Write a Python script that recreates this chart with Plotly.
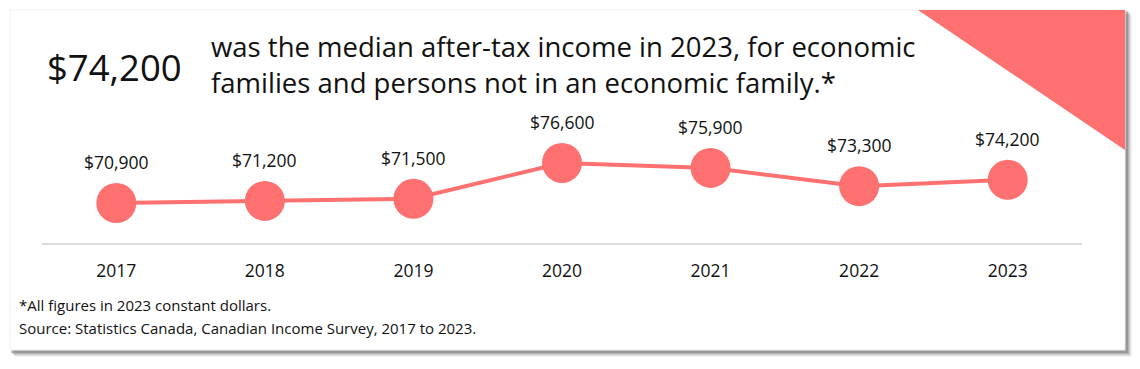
import plotly.graph_objects as go

years = ["2017", "2018", "2019", "2020", "2021", "2022", "2023"]
income = [70900, 71200, 71500, 76600, 75900, 73300, 74200]
labels = ["$70,900", "$71,200", "$71,500", "$76,600", "$75,900", "$73,300", "$74,200"]

# page has an 8px body margin; figure is sized so the page fits the 1140x369 window
OFF = 8
W, H = 1140 - 2 * OFF, 369 - 2 * OFF
RED = "#ff7070"
FONT = "Open Sans"


def px(x):
    return (x - OFF) / W


def py(y):
    return 1 - (y - OFF) / H


fig = go.Figure()
fig.add_trace(go.Scatter(
    x=years, y=income, mode="lines+markers",
    line=dict(color=RED, width=4),
    marker=dict(color=RED, size=40, line=dict(width=0)),
    hoverinfo="skip", showlegend=False,
))

annotations = []
for i, (v, lab) in enumerate(zip(income, labels)):
    annotations.append(dict(x=i, y=v, xref="x", yref="y", text=lab, showarrow=False,
                            yshift=41, font=dict(family=FONT, size=17.5, color="#111")))

annotations += [
    dict(x=px(114), y=py(67), xref="paper", yref="paper", text="$74,200", showarrow=False,
         xanchor="center", yanchor="middle", font=dict(family=FONT, size=36.5, color="#111")),
    dict(x=px(209), y=py(47), xref="paper", yref="paper",
         text="was the median after-tax income in 2023, for economic", showarrow=False,
         xanchor="left", yanchor="middle", font=dict(family=FONT, size=27.5, color="#111")),
    dict(x=px(209), y=py(82), xref="paper", yref="paper",
         text="families and persons not in an economic family.*", showarrow=False,
         xanchor="left", yanchor="middle", font=dict(family=FONT, size=27.5, color="#111")),
    dict(x=px(17), y=py(305), xref="paper", yref="paper",
         text="*All figures in 2023 constant dollars.", showarrow=False,
         xanchor="left", yanchor="middle", font=dict(family=FONT, size=15, color="#111")),
    dict(x=px(17), y=py(328), xref="paper", yref="paper",
         text="Source: Statistics Canada, Canadian Income Survey, 2017 to 2023.", showarrow=False,
         xanchor="left", yanchor="middle", font=dict(family=FONT, size=15, color="#111")),
]

shapes = []
# shadow layers
for off, op in [(7, 0.07), (6, 0.1), (5, 0.14), (4, 0.2), (3, 0.28)]:
    shapes.append(dict(type="rect", xref="paper", yref="paper", layer="below",
                       x0=px(10 + off - 2), x1=px(1125 + off), y0=py(350 + off), y1=py(10 + off - 2),
                       fillcolor=f"rgba(80,80,80,{op})", line=dict(width=0)))
shapes.append(dict(type="rect", xref="paper", yref="paper", layer="below",
                   x0=px(10), x1=px(1125), y0=py(350), y1=py(10),
                   fillcolor="white", line=dict(width=1, color="#f0f0f0")))
# corner triangle
shapes.append(dict(type="path", xref="paper", yref="paper", layer="below",
                   path=f"M {px(918)},{py(10)} L {px(1125)},{py(10)} L {px(1125)},{py(150)} Z",
                   fillcolor=RED, line=dict(width=0)))

fig.update_layout(
    width=W, height=H,
    margin=dict(l=0, r=0, t=0, b=0),
    paper_bgcolor="white", plot_bgcolor="rgba(0,0,0,0)",
    xaxis=dict(domain=[px(42), px(1082)], type="category", range=[-0.5, 6.5],
               showgrid=False, zeroline=False, showline=True, linecolor="#dcdcdc", linewidth=2,
               ticks="", ticklabelstandoff=11,
               tickfont=dict(family=FONT, size=17.5, color="#111")),
    yaxis=dict(domain=[py(243), py(100)], range=[65200, 85570], visible=False, fixedrange=True),
    annotations=annotations,
    shapes=shapes,
    font=dict(family=FONT),
)

fig.write_html("out.html")
